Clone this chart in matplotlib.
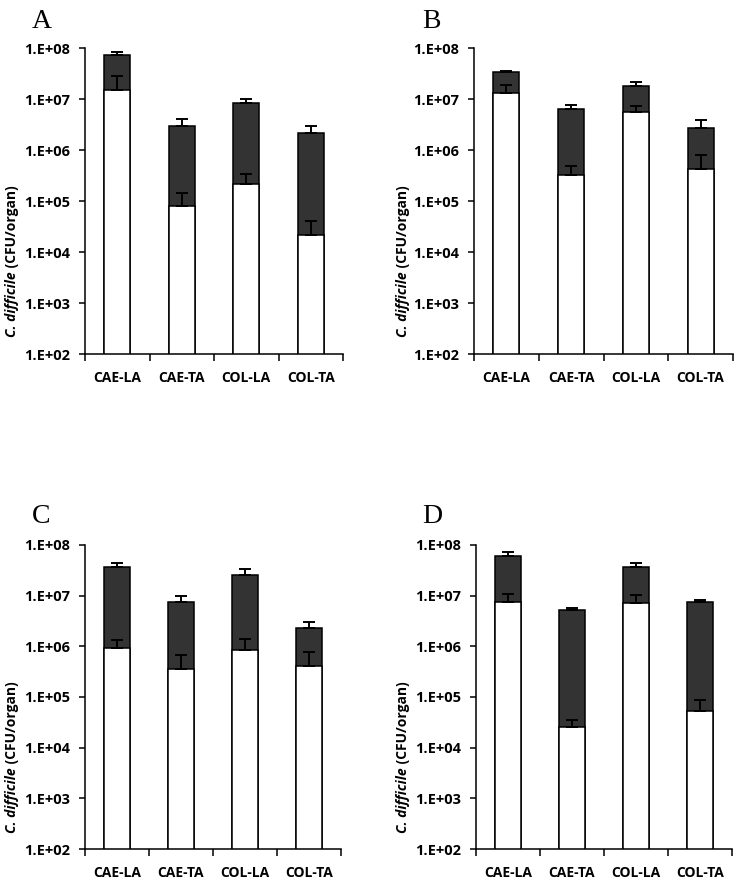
import numpy as np
import matplotlib
matplotlib.use("Agg")
import matplotlib.pyplot as plt
from matplotlib.ticker import FixedLocator, NullFormatter, FixedFormatter

plt.rcParams['font.family'] = ['Open Sans', 'DejaVu Sans']

categories = ["CAE-LA", "CAE-TA", "COL-LA", "COL-TA"]
panel_letters = ["A", "B", "C", "D"]
yticks = [1e2, 1e3, 1e4, 1e5, 1e6, 1e7, 1e8]
ytick_labels = ["1.E+02", "1.E+03", "1.E+04", "1.E+05", "1.E+06", "1.E+07", "1.E+08"]
ylabel_italic = "C. difficile"
ylabel_rest = " (CFU/organ)"

# Total counts (dark bars) and upper error limits
total_A = [7.2e7, 3.0e6, 8.3e6, 2.14e6]
total_err_A = [8.4e7, 4.0e6, 1.02e7, 2.98e6]
spore_A = [1.5e7, 8.1e4, 2.18e5, 2.19e4]
spore_err_A = [2.8e7, 1.43e5, 3.4e5, 4.0e4]

total_B = [3.34e7, 6.3e6, 1.78e7, 2.76e6]
total_err_B = [3.5e7, 7.8e6, 2.13e7, 3.85e6]
spore_B = [1.3e7, 3.27e5, 5.5e6, 4.3e5]
spore_err_B = [1.89e7, 4.9e5, 7.2e6, 8.05e5]

total_C = [3.68e7, 7.4e6, 2.52e7, 2.31e6]
total_err_C = [4.4e7, 9.9e6, 3.36e7, 3.03e6]
spore_C = [9.3e5, 3.65e5, 8.5e5, 4.05e5]
spore_err_C = [1.34e6, 6.8e5, 1.38e6, 7.65e5]

total_D = [6.07e7, 5.3e6, 3.68e7, 7.4e6]
total_err_D = [7.3e7, 5.6e6, 4.37e7, 8.2e6]
spore_D = [7.6e6, 2.55e4, 7.2e6, 5.2e4]
spore_err_D = [1.08e7, 3.45e4, 1.03e7, 8.9e4]

panels = [
    (total_A, total_err_A, spore_A, spore_err_A),
    (total_B, total_err_B, spore_B, spore_err_B),
    (total_C, total_err_C, spore_C, spore_err_C),
    (total_D, total_err_D, spore_D, spore_err_D),
]

W, H = 738, 880
fig = plt.figure(figsize=(W / 100, H / 100), dpi=100)

# pixel boxes: (left, top, right, bottom)
boxes = [(85, 48, 343, 354), (474, 48, 733, 354),
         (85, 545, 341, 849), (476, 545, 732, 849)]
letter_pos = [(32, 28), (422, 28), (32, 523), (422, 523)]
label_pos = [(16, 337), (407, 337), (16, 833), (407, 833)]

YMIN = 1e2
label_parts = []
for i, (tot, tot_err, spo, spo_err) in enumerate(panels):
    l, t, r, b = boxes[i]
    ax = fig.add_axes([l / W, 1 - b / H, (r - l) / W, (b - t) / H])
    x = np.arange(len(categories))
    tot = np.array(tot)
    spo = np.array(spo)
    ax.set_yscale('log')
    ax.bar(x, tot - YMIN, bottom=YMIN, width=0.4, color='#333333',
           edgecolor='black', linewidth=1.1, zorder=2)
    ax.errorbar(x, tot, yerr=[np.zeros(len(x)), np.array(tot_err) - tot],
                fmt='none', ecolor='black', elinewidth=1.4, capsize=4,
                capthick=1.4, zorder=3)
    ax.bar(x, spo - YMIN, bottom=YMIN, width=0.4, color='white',
           edgecolor='black', linewidth=1.1, zorder=4)
    ax.errorbar(x, spo, yerr=[np.zeros(len(x)), np.array(spo_err) - spo],
                fmt='none', ecolor='black', elinewidth=1.4, capsize=4,
                capthick=1.4, zorder=5)
    ax.set_ylim(1e2, 1e8)
    ax.set_xlim(-0.5, len(categories) - 0.5)
    ax.yaxis.set_major_locator(FixedLocator(yticks))
    ax.yaxis.set_major_formatter(FixedFormatter(ytick_labels))
    ax.yaxis.set_minor_locator(FixedLocator([]))
    ax.xaxis.set_major_locator(FixedLocator(np.arange(len(categories) + 1) - 0.5))
    ax.xaxis.set_major_formatter(NullFormatter())
    ax.xaxis.set_minor_locator(FixedLocator(x))
    ax.xaxis.set_minor_formatter(FixedFormatter(categories))
    ax.tick_params(axis='x', which='major', length=5, width=1.1, direction='out')
    ax.tick_params(axis='x', which='minor', length=0, pad=12, labelsize=10)
    ax.tick_params(axis='y', which='major', length=4, width=1.1, pad=7, labelsize=10.5)
    for lab in ax.get_xticklabels(minor=True) + ax.get_yticklabels():
        lab.set_fontweight('bold')
    for s in ['top', 'right']:
        ax.spines[s].set_visible(False)
    for s in ['left', 'bottom']:
        ax.spines[s].set_linewidth(1.1)
    lx, ly = letter_pos[i]
    fig.text(lx / W, 1 - ly / H, panel_letters[i], fontsize=20,
             family='Liberation Serif', ha='left', va='baseline')
    px, py = label_pos[i]
    t1 = fig.text(px / W, 1 - py / H, ylabel_italic, rotation=90,
                  rotation_mode='anchor', ha='left', va='baseline',
                  fontsize=10, fontweight='bold', fontstyle='italic')
    label_parts.append((t1, px))

fig.canvas.draw()
renderer = fig.canvas.get_renderer()
for t1, px in label_parts:
    bb = t1.get_window_extent(renderer)
    fig.text(px / W, bb.y1 / fig.bbox.height, ylabel_rest, rotation=90,
             rotation_mode='anchor', ha='left', va='baseline',
             fontsize=10, fontweight='bold')

fig.savefig("out.png", dpi=100)
